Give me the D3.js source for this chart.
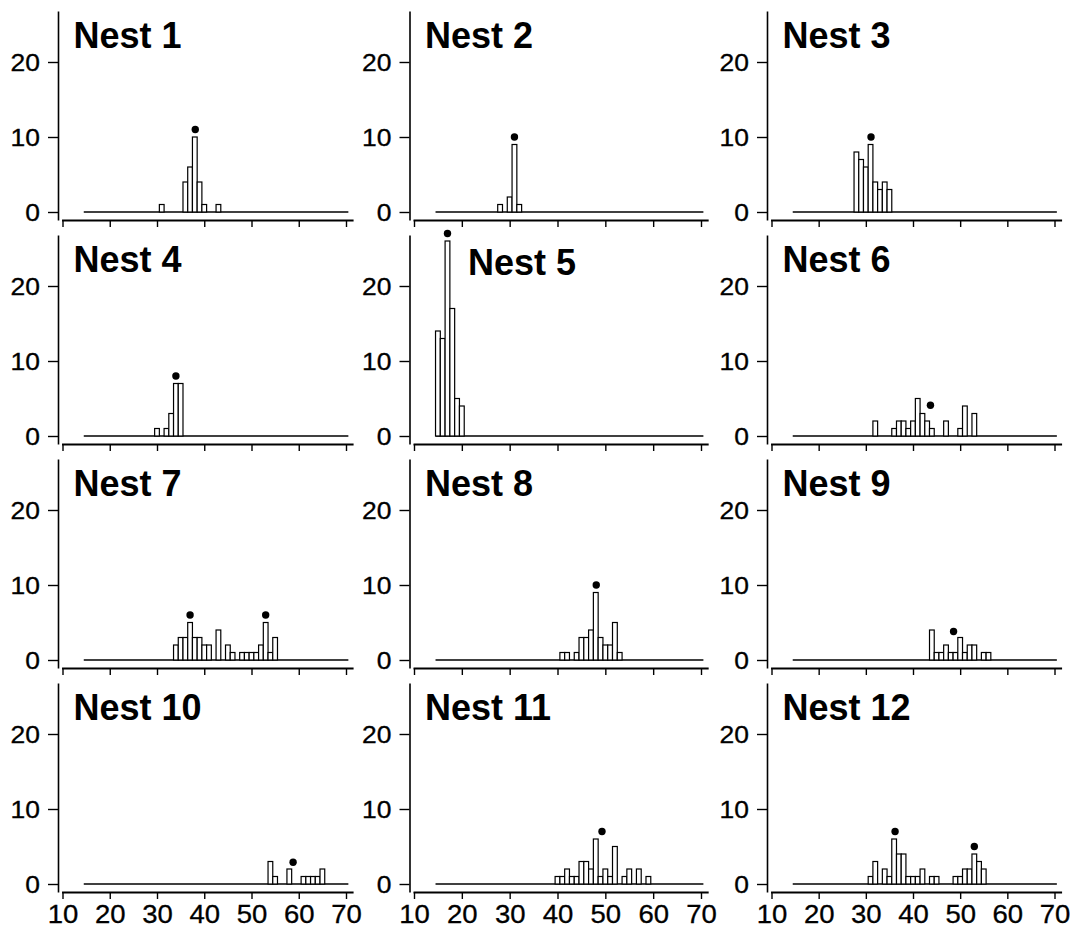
<!DOCTYPE html>
<html>
<head>
<meta charset="utf-8">
<script src="https://cdn.jsdelivr.net/npm/d3@7"></script>
<style>
  body { margin: 0; background: #fff; }
  text { font-family: "Liberation Sans", Arial, sans-serif; fill: #000; }
</style>
</head>
<body>
<script>
'use strict';

// Panel titles
const titles = ['Nest 1', 'Nest 2', 'Nest 3', 'Nest 4', 'Nest 5', 'Nest 6',
  'Nest 7', 'Nest 8', 'Nest 9', 'Nest 10', 'Nest 11', 'Nest 12'];

// Histogram counts per nest: [bin centre, count]
const hist1 = [[31, 1], [36, 4], [37, 6], [38, 10], [39, 4], [40, 1], [43, 1]];
const hist2 = [[28, 1], [30, 2], [31, 9], [32, 1]];
const hist3 = [[28, 8], [29, 7], [30, 6], [31, 9], [32, 4], [33, 3], [34, 4], [35, 3]];
const hist4 = [[30, 1], [32, 1], [33, 3], [34, 7], [35, 7]];
const hist5 = [[15, 14], [16, 13], [17, 26], [18, 17], [19, 5], [20, 4]];
const hist6 = [[32, 2], [36, 1], [37, 2], [38, 2], [39, 1], [40, 2], [41, 5], [42, 3],
  [43, 2], [44, 1], [47, 2], [50, 1], [51, 4], [53, 3]];
const hist7 = [[34, 2], [35, 3], [36, 3], [37, 5], [38, 3], [39, 3], [40, 2], [41, 2],
  [43, 4], [45, 2], [46, 1], [48, 1], [49, 1], [50, 1], [51, 1], [52, 2], [53, 5],
  [54, 1], [55, 3]];
const hist8 = [[41, 1], [42, 1], [44, 1], [45, 3], [46, 3], [47, 4], [48, 9], [49, 3],
  [50, 2], [51, 2], [52, 5], [53, 1]];
const hist9 = [[44, 4], [45, 1], [46, 1], [47, 2], [48, 1], [49, 1], [50, 3], [51, 1],
  [52, 2], [53, 2], [55, 1], [56, 1]];
const hist10 = [[54, 3], [55, 1], [58, 2], [61, 1], [62, 1], [63, 1], [64, 1], [65, 2]];
const hist11 = [[40, 1], [41, 1], [42, 2], [43, 1], [44, 1], [45, 3], [46, 3], [47, 2],
  [48, 6], [49, 1], [50, 2], [51, 1], [52, 5], [54, 1], [55, 2], [57, 2], [59, 1]];
const hist12 = [[31, 1], [32, 3], [34, 2], [35, 1], [36, 6], [37, 4], [38, 4], [39, 1],
  [40, 1], [41, 1], [42, 2], [44, 1], [45, 1], [49, 1], [50, 1], [51, 2], [52, 2],
  [53, 4], [54, 3], [55, 2]];

// Dot markers per nest: [x, y]
const dots1 = [[38.1, 11]];
const dots2 = [[31, 10]];
const dots3 = [[31.1, 10]];
const dots4 = [[34, 8]];
const dots5 = [[17, 27]];
const dots6 = [[43.7, 4.1]];
const dots7 = [[37, 6], [53, 6]];
const dots8 = [[48.1, 10]];
const dots9 = [[48.6, 3.8]];
const dots10 = [[58.8, 2.9]];
const dots11 = [[49.3, 7]];
const dots12 = [[36.2, 7], [53, 5]];

const xTicks = [10, 20, 30, 40, 50, 60, 70];
const yTicks = [0, 10, 20];

const histograms = [hist1, hist2, hist3, hist4, hist5, hist6,
  hist7, hist8, hist9, hist10, hist11, hist12];
const dots = [dots1, dots2, dots3, dots4, dots5, dots6,
  dots7, dots8, dots9, dots10, dots11, dots12];

// Layout
const colX = [62.5, 414, 771.5];
const colW = [283.5, 287, 283];
const rowY = r => 212 + r * 224;
const yTop = 26.8;
const pxPerCount = 7.5;

const svg = d3.select('body').append('svg')
  .attr('width', 1070)
  .attr('height', 930);

svg.append('rect')
  .attr('width', 1070)
  .attr('height', 930)
  .attr('fill', '#fff');

titles.forEach((title, i) => {
  const r = Math.floor(i / 3);
  const c = i % 3;
  const y0 = rowY(r);

  const x = d3.scaleLinear().domain([10, 70]).range([colX[c], colX[c] + colW[c]]);
  const y = d3.scaleLinear().domain([0, yTop]).range([y0, y0 - yTop * pxPerCount]);

  const g = svg.append('g');

  // y axis, its line runs down to the x axis
  const yAxis = y.copy()
    .domain([y.invert(y0 + 8), yTop])
    .range([y0 + 8, y(yTop)]);
  const ya = g.append('g')
    .attr('transform', `translate(${colX[c] - 4.5},0)`)
    .call(d3.axisLeft(yAxis).tickValues(yTicks).tickSize(10).tickSizeOuter(0));
  ya.select('.domain').attr('stroke-width', 1.6);
  ya.selectAll('.tick line').attr('stroke-width', 1.4);
  ya.selectAll('.tick text')
    .style('font-size', '23px')
    .attr('x', -18 / 1.15)
    .attr('dy', '0.36em')
    .attr('stroke', '#000')
    .attr('stroke-width', 0.3)
    .attr('transform', 'scale(1.15,1)');

  // x axis, labels only on the bottom row
  const xAxis = x.copy()
    .domain([9.8, 71.5])
    .range([x(9.8), x(71.5)]);
  const xa = g.append('g')
    .attr('transform', `translate(0,${y0 + 8})`)
    .call(d3.axisBottom(xAxis).tickValues(xTicks).tickSize(7).tickSizeOuter(0)
      .tickFormat(r === 3 ? d3.format('d') : ''));
  xa.select('.domain').attr('stroke-width', 2);
  xa.selectAll('.tick line').attr('stroke-width', 1.4);
  xa.selectAll('.tick text')
    .style('font-size', '25px')
    .attr('y', 31)
    .attr('dy', 0)
    .attr('stroke', '#000')
    .attr('stroke-width', 0.3)
    .attr('transform', 'scale(1.1,1)');

  // zero line across the binned range
  g.append('line')
    .attr('x1', x(14.5))
    .attr('x2', x(70.5))
    .attr('y1', y(0))
    .attr('y2', y(0))
    .attr('stroke', '#000')
    .attr('stroke-width', 1.3);

  g.selectAll('rect.bar')
    .data(histograms[i])
    .join('rect')
    .attr('class', 'bar')
    .attr('x', d => x(d[0] - 0.5))
    .attr('width', d => x(d[0] + 0.5) - x(d[0] - 0.5))
    .attr('y', d => y(d[1]))
    .attr('height', d => y(0) - y(d[1]))
    .attr('fill', '#fff')
    .attr('stroke', '#000')
    .attr('stroke-width', 1.2);

  g.selectAll('circle')
    .data(dots[i])
    .join('circle')
    .attr('cx', d => x(d[0]))
    .attr('cy', d => y(d[1]))
    .attr('r', 3.7)
    .attr('fill', '#000');

  // Nest 5 has its title pushed right of the tall bars
  const isNest5 = i === 4;
  g.append('text')
    .attr('x', colX[c] + (isNest5 ? 54 : 11))
    .attr('y', y0 - (isNest5 ? 161 : 164))
    .attr('font-size', 36)
    .attr('font-weight', 'bold')
    .text(title);
});
</script>
</body>
</html>
